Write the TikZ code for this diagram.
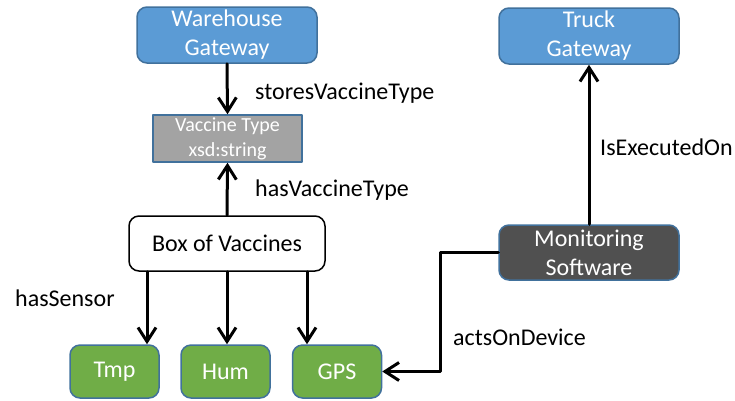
\documentclass[tikz,border=0pt]{standalone}
\usepackage{fontspec}
\setmainfont{Carlito}
\usetikzlibrary{arrows.meta}
\definecolor{gwblue}{HTML}{5B9BD5}
\definecolor{edgeblue}{HTML}{41719C}
\definecolor{sensgreen}{HTML}{70AD47}
\definecolor{typegray}{HTML}{A3A3A3}
\definecolor{softdark}{HTML}{505050}

\begin{document}
\begin{tikzpicture}[x=1pt,y=-1pt,line cap=round,line join=round,
  box/.style={rounded corners=10pt,line width=1.5pt,draw=edgeblue,inner sep=0pt,align=center,
    font=\fontsize{24}{29}\selectfont},
  gateway/.style={box,fill=gwblue,text=white,minimum width=180pt,minimum height=56pt},
  sensor/.style={box,fill=sensgreen,text=white,minimum width=89pt,minimum height=53pt},
  arr/.style={line width=3pt,-{Straight Barb[length=14pt,width=18pt]}},
  lbl/.style={anchor=west,inner sep=0pt,font=\fontsize{24}{29}\selectfont}]
\useasboundingbox (0,0) rectangle (735,400);
% top row
\node[gateway] (wg) at (227,35) {Warehouse\\Gateway};
\node[gateway] (tg) at (589,36) {Truck\\Gateway};
\node[box,rounded corners=0pt,fill=typegray,text=white,minimum width=149pt,minimum height=47pt,
  font=\fontsize{20}{25}\selectfont] (vt) at (227.5,138.5) {Vaccine Type\\xsd:string};
% middle row
\node[box,draw=black,fill=white,minimum width=196pt,minimum height=55pt] (bv) at (227,243.5) {Box of Vaccines};
\node[box,fill=softdark,text=white,minimum width=180pt,minimum height=55pt] (ms) at (589,252.5) {Monitoring\\Software};
% sensors
\node[sensor] (tmp) at (114.5,371.5) {Tmp};
\node[sensor] (hum) at (225.5,371.5) {Hum};
\node[sensor] (gps) at (337,371.5) {GPS};
% connectors
\draw[arr] (wg.south) -- (vt.north);
\draw[arr] (bv.north) -- (vt.south);
\draw[arr] ([xshift=-80pt]bv.south) -- ([xshift=-80pt]bv.south |- tmp.north);
\draw[arr] (bv.south) -- (bv.south |- hum.north);
\draw[arr] ([xshift=80pt]bv.south) -- ([xshift=80pt]bv.south |- gps.north);
\draw[arr] (ms.north) -- (tg.south);
\draw[arr] (ms.west) -- ++(-58,0) |- (gps.east);
% labels
\node[lbl] (l1) at (255,93) {storesVaccineType};
\node[lbl] (l2) at (255,190) {hasVaccineType};
\node[lbl] (l3) at (15,298) {hasSensor};
\node[lbl] (l4) at (600,147) {IsExecutedOn};
\node[lbl] (l5) at (453,337) {actsOnDevice};
\end{tikzpicture}
\end{document}
